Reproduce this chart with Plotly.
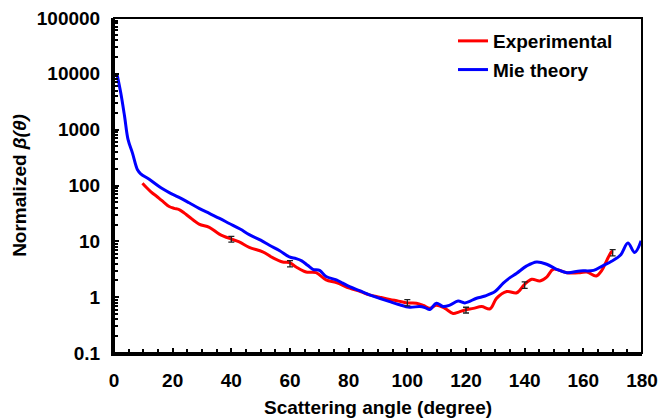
import plotly.graph_objects as go

# Mie theory curve
mie_angle = [1, 2.3, 3.6, 4.8, 6.3, 8.0, 9.1, 12, 16, 19, 22, 25.6, 29, 32.5, 36, 39.3, 43, 46.1, 50, 53,
             56.5, 59.8, 62.1, 64, 66, 67.8, 70.1, 72.3, 75.8, 78, 80.3, 84, 87.1, 90.5, 94, 97, 100.8,
             104.2, 106, 107.7, 109.9, 112.2, 114.5, 117.3, 119.6, 123.6, 126.5, 129.9, 132.7, 135.0,
             137.3, 140.7, 144.1, 147.5, 150.9, 154.4, 158.9, 163.5, 166.9, 169.2, 172.6, 175.2, 177.5, 179.7]
mie_value = [10000, 4571, 1738, 661, 380, 191, 162, 129, 91, 74, 62, 49, 39, 31.6, 25.7, 20.9, 16.6, 13.2, 10.5, 8.5,
             6.8, 5.25, 4.9, 4.47, 3.72, 3.16, 3.02, 2.34, 2.04, 1.78, 1.55, 1.29, 1.10, 0.955, 0.83, 0.74, 0.66,
             0.68, 0.65, 0.60, 0.78, 0.68, 0.72, 0.85, 0.79, 0.955, 1.05, 1.26, 1.78, 2.24,
             2.69, 3.63, 4.27, 3.89, 3.16, 2.75, 2.95, 3.02, 3.72, 4.27, 5.62, 9.33, 6.31, 10.2]

# Experimental curve
exp_angle = [9.7, 11, 12.5, 15.4, 17, 18.8, 20.5, 22.2, 24, 25.6, 29, 32.5, 35.9, 39.9, 42.7, 46.1, 50.7, 54.1,
             57.5, 59.8, 62.1, 65.5, 68.9, 72.3, 75.8, 80.3, 84, 87.1, 90.5, 94, 97, 99.9, 103.1, 105.5, 107.7,
             109.9, 112.8, 115.6, 117.5, 119.6, 122.5, 125.3, 128.2, 130.4, 133.9, 137.3, 139.8, 142.4, 145.2,
             147.5, 149.8, 154.4, 158.9, 161.2, 164.4, 166.3, 168.0, 169.4, 170]
exp_value = [110, 93, 78, 59, 50, 42, 39, 37, 32, 27.5, 20.4, 17.8, 13.5, 11.0, 9.8, 7.8, 6.5, 5.1,
             4.27, 4.17, 3.47, 2.82, 2.75, 2.04, 1.82, 1.45, 1.26, 1.10, 1.0, 0.91, 0.85, 0.79, 0.78, 0.71, 0.63,
             0.72, 0.63, 0.51, 0.54, 0.59, 0.63, 0.68, 0.62, 0.95, 1.26, 1.20, 1.66, 2.09, 1.95,
             2.29, 3.16, 2.75, 2.75, 2.82, 2.40, 3.02, 4.57, 6.31, 6.76]

# Error bars on experimental data
err_angle = [40, 60, 100, 120, 140, 170]
err_value = [11.0, 4.0, 0.80, 0.59, 1.66, 6.3]
err_size = [1.3, 0.5, 0.1, 0.07, 0.22, 0.8]

y_tickvals = [0.1, 1, 10, 100, 1000, 10000, 100000]
y_ticktext = ["0.1", "1", "10", "100", "1000", "10000", "100000"]
x_tickvals = [0, 20, 40, 60, 80, 100, 120, 140, 160, 180]

FONT = "Liberation Sans, Arial, sans-serif"

fig = go.Figure()
fig.add_trace(go.Scatter(x=exp_angle, y=exp_value, mode="lines", name="<b>Experimental</b>",
                         line=dict(color="#FF0000", width=3, shape="spline"), legendgroup="a"))
fig.add_trace(go.Scatter(x=mie_angle, y=mie_value, mode="lines", name="<b>Mie theory</b>",
                         line=dict(color="#0000FF", width=3, shape="spline"), legendgroup="b"))
fig.add_trace(go.Scatter(x=err_angle, y=err_value, mode="markers", showlegend=False,
                         marker=dict(size=1, color="rgba(0,0,0,0)"),
                         error_y=dict(type="data", array=err_size, color="#222222", thickness=1.3, width=3)))

minor_y = [m * 10 ** k for k in range(-1, 5) for m in range(2, 10)]

fig.update_layout(
    width=659, height=418,
    margin=dict(l=114, r=17, t=18, b=65),
    paper_bgcolor="white", plot_bgcolor="white",
    font=dict(family=FONT, color="black", size=19),
    showlegend=True,
    legend=dict(x=0.642, y=0.988, xanchor="left", yanchor="top", bgcolor="rgba(0,0,0,0)",
                font=dict(size=19, family=FONT), tracegroupgap=1, traceorder="grouped"),
    shapes=[dict(type="rect", xref="paper", yref="paper", x0=0, x1=1, y0=0, y1=1,
                 line=dict(color="black", width=2), layer="above")],
)
fig.update_xaxes(range=[0, 180], tickvals=x_tickvals, ticks="inside", ticklen=5, tickwidth=1.5,
                 tickcolor="black", showline=True, linewidth=3, linecolor="black", showgrid=False,
                 zeroline=False, tickfont=dict(size=19, family=FONT, weight="bold"), automargin=False,
                 minor=dict(dtick=5, ticks="inside", ticklen=4, tickwidth=1.5, tickcolor="black", showgrid=False),
                 title=dict(text="<b>Scattering angle (degree)</b>", font=dict(size=19, family=FONT), standoff=12),
                 ticklabelstandoff=8)
fig.update_yaxes(type="log", range=[-1, 5], tickvals=y_tickvals, ticktext=y_ticktext, ticks="inside",
                 ticklen=5, tickwidth=1.5, tickcolor="black", showline=True, linewidth=3, linecolor="black",
                 showgrid=False, zeroline=False, tickfont=dict(size=19, family=FONT, weight="bold"),
                 automargin=False,
                 minor=dict(tickvals=minor_y, ticks="inside", ticklen=4, tickwidth=1.5, tickcolor="black",
                            showgrid=False),
                 title=dict(text="<b>Normalized <i>β(θ)</i></b>", font=dict(size=19, family=FONT), standoff=6),
                 ticklabelstandoff=7)

fig.write_html("out.html")
